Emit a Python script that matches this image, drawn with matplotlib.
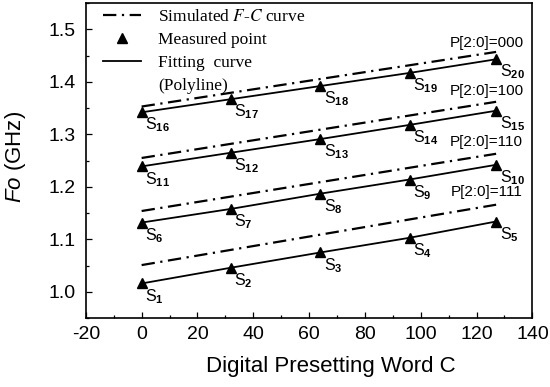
import matplotlib
matplotlib.use("Agg")
import matplotlib.pyplot as plt
from matplotlib.lines import Line2D
from matplotlib.ticker import MultipleLocator
from matplotlib.font_manager import FontProperties

# ---- data ----
C = [0, 32, 64, 96, 127]          # digital presetting word at measured points
C_SIM = [0, 127]                  # simulated F-C curves are straight lines

# measured Fo (GHz), one list per P[2:0] code
MEAS_111 = [1.016, 1.046, 1.075, 1.103, 1.134]
MEAS_110 = [1.132, 1.158, 1.187, 1.214, 1.242]
MEAS_100 = [1.239, 1.265, 1.291, 1.318, 1.345]
MEAS_000 = [1.342, 1.367, 1.392, 1.417, 1.443]

# simulated Fo (GHz) at C_SIM ends
SIM_111 = [1.051, 1.166]
SIM_110 = [1.154, 1.263]
SIM_100 = [1.255, 1.362]
SIM_000 = [1.353, 1.457]

P_LABELS = ["P[2:0]=111", "P[2:0]=110", "P[2:0]=100", "P[2:0]=000"]
P_Y = [1.190, 1.286, 1.382, 1.474]
P_X = 123.5

MEAS = [MEAS_111, MEAS_110, MEAS_100, MEAS_000]
SIM = [SIM_111, SIM_110, SIM_100, SIM_000]

plt.rcParams["font.family"] = "Liberation Sans"
plt.rcParams["axes.unicode_minus"] = False
plt.rcParams["mathtext.fontset"] = "custom"
plt.rcParams["mathtext.rm"] = "Liberation Sans"
plt.rcParams["mathtext.it"] = "Liberation Sans:italic"
plt.rcParams["mathtext.bf"] = "Liberation Sans:bold"

DASHDOT = (6, 2.5, 1, 2.5)

fig = plt.figure(figsize=(5.5, 3.87), dpi=100)
ax = fig.add_axes([0.156, 0.178, 0.812, 0.814])

n = 1
for meas, sim, plab, py in zip(MEAS, SIM, P_LABELS, P_Y):
    ax.plot(C_SIM, sim, color="k", lw=1.6, dashes=DASHDOT)
    ax.plot(C, meas, color="k", lw=1.3, marker="^", ms=7)
    for x, y in zip(C, meas):
        ax.annotate(r"S$_{\mathbf{%d}}$" % n, (x, y), xytext=(2.5, -2.5),
                    textcoords="offset points", ha="left", va="top", fontsize=11.5)
        n += 1
    ax.text(P_X, py, plab, ha="center", va="center", fontsize=11)

ax.set_xlim(-20, 140)
ax.set_ylim(0.95, 1.55)
ax.xaxis.set_major_locator(MultipleLocator(20))
ax.xaxis.set_minor_locator(MultipleLocator(10))
ax.yaxis.set_major_locator(MultipleLocator(0.1))
ax.yaxis.set_minor_locator(MultipleLocator(0.05))
ax.tick_params(which="both", direction="in", width=0.9)
ax.tick_params(which="major", length=4.5, labelsize=14)
ax.tick_params(axis="x", which="major", pad=6)
ax.tick_params(axis="y", which="major", pad=7)
ax.tick_params(which="minor", length=2.5)
for s in ax.spines.values():
    s.set_linewidth(1.2)

ax.set_xlabel("Digital Presetting Word C", fontsize=16)
ax.set_ylabel("$Fo$ (GHz)", fontsize=16)
ax.xaxis.set_label_coords(0.549, -0.12)
ax.yaxis.set_label_coords(-0.13, 0.51)

handles = [
    Line2D([], [], color="k", lw=1.6, dashes=DASHDOT),
    Line2D([], [], color="k", ls="none", marker="^", ms=7.5),
    Line2D([], [], color="k", lw=1.3),
    Line2D([], [], ls="none"),
]
labels = ["Simulated $F$-$C$ curve", "Measured point", "Fitting  curve", "(Polyline)"]
fp = FontProperties(family="Liberation Serif", size=12.5, math_fontfamily="stix")
ax.legend(handles, labels, loc="upper left", bbox_to_anchor=(0.038, 0.982),
          frameon=False, borderpad=0, borderaxespad=0, handlelength=2.2,
          handletextpad=1.0, labelspacing=0.4, prop=fp)

fig.savefig("out.png", dpi=100)
